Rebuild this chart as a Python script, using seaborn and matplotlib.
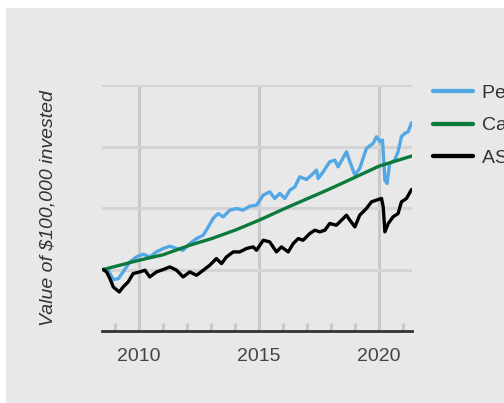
import pandas as pd
import seaborn as sns
import matplotlib.pyplot as plt
from matplotlib.patches import Rectangle
from matplotlib.ticker import MultipleLocator, NullFormatter

# series (decimal years, value in $ thousands)
fund_years = [2008.50, 2008.71, 2008.92, 2009.13, 2009.33, 2009.61, 2009.89, 2010.17,
              2010.44, 2010.72, 2011.00, 2011.28, 2011.56, 2011.83, 2012.11, 2012.39,
              2012.67, 2012.88, 2013.08, 2013.29, 2013.50, 2013.78, 2014.06, 2014.33,
              2014.61, 2014.89, 2015.17, 2015.44, 2015.65, 2015.86, 2016.07, 2016.28,
              2016.49, 2016.69, 2016.97, 2017.18, 2017.39, 2017.46, 2017.67, 2017.94,
              2018.15, 2018.29, 2018.64, 2018.78, 2018.99, 2019.19, 2019.47, 2019.75,
              2019.89, 2020.03, 2020.14, 2020.24, 2020.33, 2020.44, 2020.65, 2020.79,
              2020.93, 2021.07, 2021.21, 2021.35]
fund_values = [100.0, 98.8, 83.6, 85.2, 96.1, 112.3, 120.5, 124.8,
               120.5, 128.6, 134.1, 137.9, 134.1, 131.3, 142.2, 150.3,
               155.8, 169.3, 182.9, 191.0, 185.6, 196.5, 199.2, 196.5,
               203.0, 204.6, 220.9, 226.3, 215.5, 223.6, 215.5, 229.0,
               234.5, 250.7, 246.4, 253.5, 261.6, 248.0, 258.9, 275.2,
               277.9, 267.0, 291.5, 275.2, 253.5, 264.3, 296.9, 305.0,
               315.9, 307.7, 310.4, 245.3, 239.9, 272.5, 277.9, 291.5,
               315.9, 321.3, 324.0, 338.7]

cash_years = [2008.50, 2009.0, 2010.0, 2011.0, 2012.11, 2013.0, 2014.0, 2015.0,
              2016.0, 2017.0, 2017.67, 2018.0, 2019.0, 2020.0, 2021.35]
cash_values = [100.0, 105.0, 115.1, 124.0, 139.5, 150.0, 164.0, 180.2,
               198.0, 215.0, 226.3, 232.0, 250.0, 268.1, 284.4]

asx_years = [2008.50, 2008.64, 2008.78, 2008.92, 2009.17, 2009.33, 2009.54, 2009.75,
             2010.03, 2010.24, 2010.44, 2010.72, 2011.00, 2011.28, 2011.56, 2011.83,
             2012.11, 2012.39, 2012.67, 2012.94, 2013.22, 2013.43, 2013.64, 2013.92,
             2014.19, 2014.47, 2014.75, 2014.89, 2015.17, 2015.44, 2015.72, 2015.93,
             2016.21, 2016.42, 2016.63, 2016.83, 2017.11, 2017.32, 2017.53, 2017.74,
             2017.94, 2018.22, 2018.64, 2018.78, 2018.99, 2019.19, 2019.47, 2019.68,
             2019.89, 2020.10, 2020.17, 2020.24, 2020.38, 2020.58, 2020.79, 2020.93,
             2021.14, 2021.35]
asx_values = [100.0, 96.1, 85.2, 71.6, 63.5, 71.6, 79.8, 93.4,
              96.1, 98.8, 87.9, 96.1, 99.9, 104.2, 98.8, 87.9,
              96.1, 90.6, 98.8, 106.9, 117.8, 109.6, 120.5, 128.6,
              128.6, 134.1, 136.8, 131.3, 147.6, 144.9, 128.6, 136.8,
              128.6, 142.2, 150.3, 147.6, 158.5, 163.9, 161.2, 163.9,
              174.8, 172.0, 188.3, 180.2, 169.3, 188.3, 199.2, 210.0,
              212.8, 215.5, 201.9, 161.2, 174.8, 185.6, 191.0, 210.0,
              215.5, 230.1]

# the reference legend runs off the right edge, so only the first letters show
series_names = ["Perpetual Balanced Growth", "Cash + 5% p.a.", "ASX 200 Accumulation"]
series_colors = ["#52a7e5", "#0c7a3c", "#000000"]
x_ticks = [2010, 2015, 2020]
y_grid = [0, 100, 200, 300, 400]

df = pd.concat([
    pd.DataFrame({"year": fund_years, "value": fund_values, "series": series_names[0]}),
    pd.DataFrame({"year": cash_years, "value": cash_values, "series": series_names[1]}),
    pd.DataFrame({"year": asx_years, "value": asx_values, "series": series_names[2]}),
])

bg = "#e8e8e8"
sns.set_style("white", {"axes.facecolor": bg})
plt.rcParams["font.family"] = ["Liberation Sans", "DejaVu Sans"]

fig = plt.figure(figsize=(5.04, 4.03), dpi=100)
fig.patch.set_facecolor("white")
fig.patches.append(Rectangle((6 / 504, 0), 1, 1 - 8 / 403, transform=fig.transFigure,
                             facecolor=bg, edgecolor="none", zorder=-10))
ax = fig.add_axes([102 / 504, 1 - 331 / 403, 310 / 504, 246 / 403])
ax.set_facecolor(bg)

sns.lineplot(data=df, x="year", y="value", hue="series", palette=series_colors,
             hue_order=series_names, linewidth=2.4, estimator=None, sort=False, ax=ax)

ax.set_xlim(2008.45, 2021.37)
ax.set_ylim(0, 400)
ax.set_xticks(x_ticks)
ax.set_xticklabels([str(t) for t in x_ticks])
ax.xaxis.set_minor_locator(MultipleLocator(1))
ax.xaxis.set_minor_formatter(NullFormatter())
ax.set_yticks(y_grid)
ax.set_yticklabels([])
ax.tick_params(axis="y", length=0)
ax.tick_params(axis="x", which="major", length=0, pad=12, labelsize=14, labelcolor="#444444")
ax.tick_params(axis="x", which="minor", direction="in", length=6, width=2.1,
               color="#c8c8c8", bottom=True)
ax.grid(axis="y", color="#d4d4d4", linewidth=2.2, zorder=0)
ax.grid(axis="x", which="major", color="#c8c8c8", linewidth=2.2, zorder=0)
ax.set_axisbelow(True)

for side in ["top", "right", "left"]:
    ax.spines[side].set_visible(False)
ax.spines["bottom"].set_color("#333333")
ax.spines["bottom"].set_linewidth(2.0)

ax.set_xlabel("")
ax.set_ylabel("Value of $100,000 invested", fontsize=14, style="italic", color="#333333")
ax.yaxis.set_label_coords(-0.148, 0.5)

handles, labels = ax.get_legend_handles_labels()
leg = ax.legend(handles, labels, loc="upper left", bbox_to_anchor=(433 / 504, 1 - 84 / 403),
                bbox_transform=fig.transFigure, frameon=False, fontsize=14,
                handlelength=2.05, handletextpad=0.45, borderpad=0, borderaxespad=0,
                labelspacing=0.78, labelcolor="#333333")
for line in leg.get_lines():
    line.set_linewidth(3.1)

fig.savefig("out.png", dpi=100, facecolor=fig.get_facecolor())
